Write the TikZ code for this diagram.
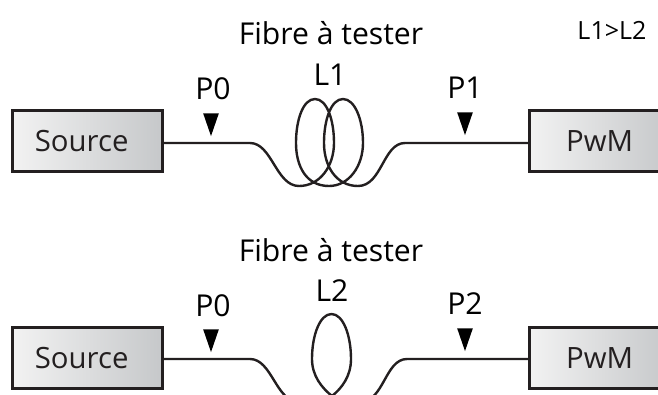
\documentclass[tikz,border=0pt]{standalone}
\usepackage{fontspec}
\setmainfont{Open Sans}
\usepackage{xcolor}
\definecolor{boxLeft}{HTML}{F2F2F2}
\definecolor{boxRight}{HTML}{C6C8CA}
\definecolor{darkLine}{HTML}{231F20}
\usepackage{tikz}
\usetikzlibrary{
    shapes.geometric,
    positioning
}
\tikzset{
    % Source and power meter boxes
    device/.style={
        draw=darkLine,
        line width=2.4pt,
        left color=boxLeft,
        right color=boxRight,
        text=darkLine,
        font=\fontsize{22}{26}\selectfont,
        minimum width=105pt,
        minimum height=46pt,
        inner sep=0pt,
    },
    % Source box keeps its text left of centre
    source box/.style={
        device,
        minimum width=112pt,
        text width=79pt,
        align=left,
    },
    % Fibre line
    fibre/.style={
        draw=darkLine,
        line width=1.8pt,
    },
    % Measurement point marker
    marker/.style={
        isosceles triangle,
        isosceles triangle apex angle=38,
        isosceles triangle stretches=false,
        shape border rotate=-90,
        fill=black,
        minimum height=17pt,
        inner sep=0pt,
    },
    % Labels
    biglabel/.style={
        text=black,
        font=\fontsize{22.6}{27}\selectfont,
        inner sep=0pt,
    },
    smalllabel/.style={
        text=black,
        font=\fontsize{18.8}{22}\selectfont,
        inner sep=0pt,
    },
}
\begin{document}
\begin{tikzpicture}[x=0.75pt, y=-0.75pt]
    \useasboundingbox (0,0) rectangle (658,394);
    \clip (0,0) rectangle (658,394);

    % Top setup
    \node (title1) [biglabel] at (331,33) {Fibre à tester};
    \node (ratio) [smalllabel] at (612,30) {L1>L2};
    \node (source1) [source box] at (87.5,141) {Source};
    \node (meter1) [device, anchor=west] at (528,141) {PwM};
    \node (mark0) [marker] at (211,119) {};
    \node (mark1) [marker] at (465,118) {};
    \node (p0) [biglabel] at (213,89) {P0};
    \node (p1) [biglabel] at (465,88) {P1};
    \node (l1) [biglabel] at (330,75) {L1};
    \coordinate (in1) at (250,143);
    \coordinate (out1) at (405,143);
    \draw [fibre] (source1.east |- in1) -- (in1)
        .. controls (272,143) and (276,186) .. (299,186)
        .. controls (320,186) and (334,166) .. (334,143)
        .. controls (334,120) and (327,99) .. (315,99)
        .. controls (303,99) and (296,120) .. (296,143)
        .. controls (296,166) and (306,186) .. (329,186)
        .. controls (349,186) and (363,166) .. (363,143)
        .. controls (363,120) and (355,99) .. (343,99)
        .. controls (331,99) and (324,120) .. (324,143)
        .. controls (324,166) and (336,186) .. (358,186)
        .. controls (382,186) and (383,143) .. (out1)
        -- (meter1.west |- out1);

    % Bottom setup
    \node (title2) [biglabel] at (331,250) {Fibre à tester};
    \node (source2) [source box] at (87.5,358) {Source};
    \node (meter2) [device, anchor=west] at (528,358) {PwM};
    \node (mark2) [marker] at (211,335) {};
    \node (mark3) [marker] at (465,334) {};
    \node (p2) [biglabel] at (213,306) {P0};
    \node (p3) [biglabel] at (465,304) {P2};
    \node (l2) [biglabel] at (332,291) {L2};
    \coordinate (in2) at (250,359);
    \coordinate (out2) at (407,359);
    \draw [fibre] (source2.east |- in2) -- (in2)
        .. controls (272,359) and (276,402) .. (299,402)
        .. controls (312,402) and (324,402) .. (332,396)
        .. controls (342,388) and (351,376) .. (351,359)
        .. controls (351,335) and (343,314) .. (331.5,314)
        .. controls (320,314) and (312,335) .. (312,359)
        .. controls (312,376) and (322,388) .. (332,396)
        .. controls (340,402) and (350,402) .. (360,402)
        .. controls (384,402) and (385,359) .. (out2)
        -- (meter2.west |- out2);
\end{tikzpicture}
\end{document}
